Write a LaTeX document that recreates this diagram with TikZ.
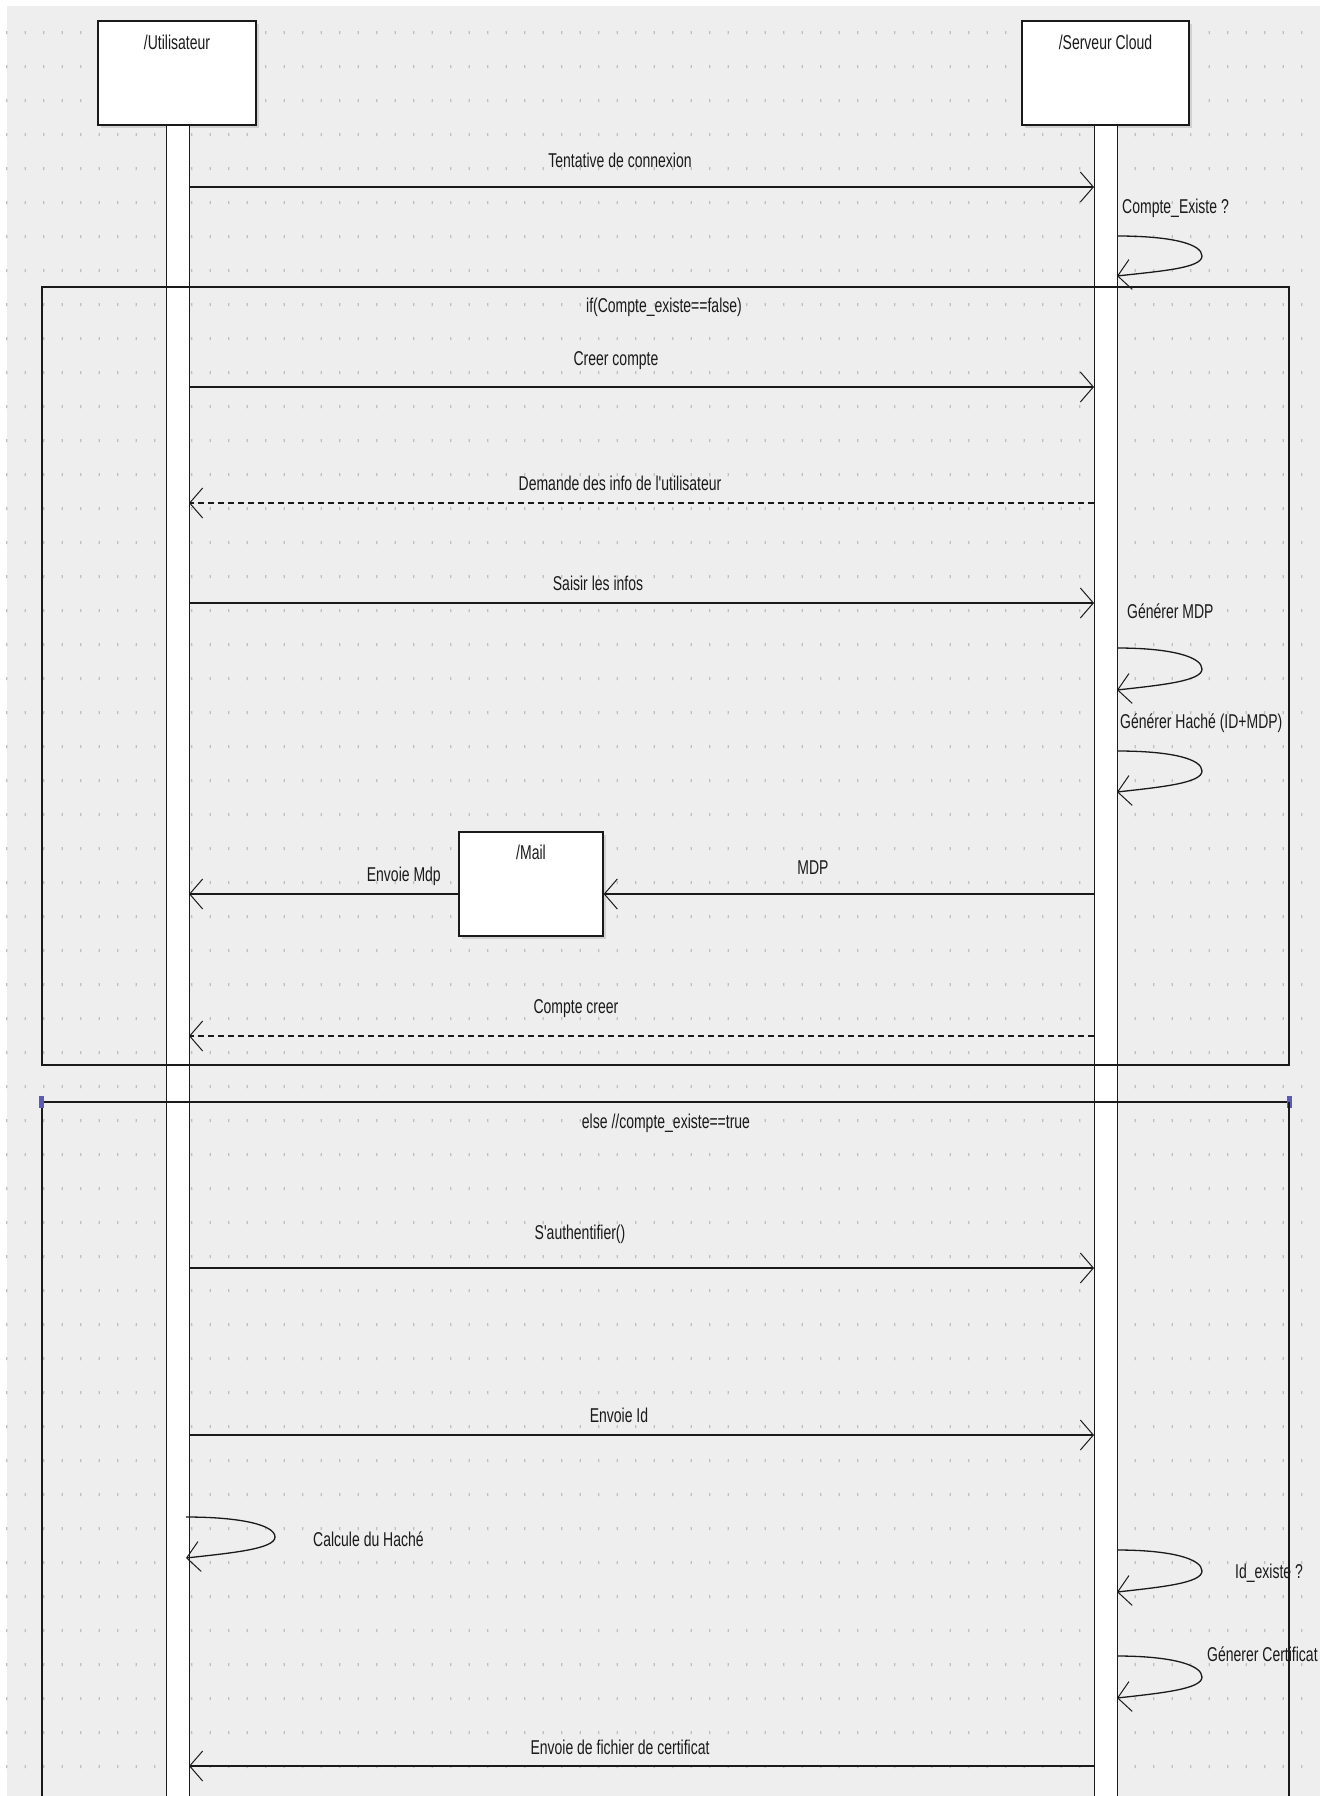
\documentclass[tikz,border=0pt]{standalone}
\usepackage{fontspec}
\newfontfamily\diafont[FakeStretch=0.7]{Liberation Sans}
\usetikzlibrary{arrows.meta}
\definecolor{bg}{HTML}{EEEEEE}
\definecolor{dotc}{HTML}{BFBFBF}
\definecolor{handle}{HTML}{5B5BB5}
\definecolor{ink}{HTML}{1A1A1A}
\begin{document}
\begin{tikzpicture}[x=1pt,y=-1pt,
  lbl/.style={font=\diafont\fontsize{20}{22}\selectfont, inner sep=0pt, text=ink},
  actorbox/.style={draw=ink, line width=1.3pt, fill=white, inner sep=0pt},
  barbox/.style={draw=ink, line width=0.9pt, fill=white, inner sep=0pt, minimum width=23pt},
  msg/.style={draw=ink, line width=1.3pt, -{Straight Barb[length=13pt,width=30pt,line width=1pt]}},
  reply/.style={msg, dash pattern=on 6pt off 4pt},
  framel/.style={draw=ink, line width=1.2pt},
  shadowc/.style={fill=black!18}
]
\useasboundingbox (0,0) rectangle (1330,1796);
% background and grid
\fill[white] (0,0) rectangle (1330,1796);
\fill[bg] (7,6) rectangle (1320,1796);
\fill[dotc] \foreach \i in {0,...,70} { \foreach \j in {0,...,52} { ({6.2+18.5*\i},{31+34*\j}) rectangle ++(1.2,3) } };

% actor boxes
\fill[shadowc] (101,24) rectangle (259,128);
\node[actorbox, minimum width=158pt, minimum height=104pt] (ubox) at (177,73) {};
\node[lbl] (ulbl) at (177,42) {/Utilisateur};
\fill[shadowc] (1025,24) rectangle (1192,128);
\node[actorbox, minimum width=167pt, minimum height=104pt] (sbox) at (1105.5,73) {};
\node[lbl] (slbl) at (1105.5,42) {/Serveur Cloud};

% lifeline bars
\node[barbox, minimum height=1680pt] (ubar) at (177.5,965) {};
\node[barbox, minimum height=1680pt] (sbar) at (1105.5,965) {};

% alt frame
\draw[framel] (42,287) rectangle (1289,1065);
\draw[draw=ink, line width=2pt] (42,287) -- (1289,287);
\draw[framel] (42,1800) -- (42,1102) -- (1289,1102) -- (1289,1800);
\draw[draw=ink, line width=2pt] (42,1102) -- (1289,1102);
\fill[handle] (39,1096) rectangle (44,1108);
\fill[handle] (1287,1096) rectangle (1292,1108);
\node[lbl] (ifl) at (664,307) {if(Compte\_existe==false)};
\node[lbl] (elsel) at (666,1123) {else //compte\_existe==true};

% coordinates
\coordinate (m1s) at (189,187);  \coordinate (m1e) at (1094,187);
\coordinate (l1s) at (1117,236); \coordinate (l1t) at (1202,256); \coordinate (l1e) at (1117,276);
\coordinate (m2s) at (189,387);  \coordinate (m2e) at (1094,387);
\coordinate (m3s) at (1094,503); \coordinate (m3e) at (189,503);
\coordinate (m4s) at (189,603);  \coordinate (m4e) at (1094,603);
\coordinate (l2s) at (1117,648); \coordinate (l2t) at (1202,669); \coordinate (l2e) at (1117,690);
\coordinate (l3s) at (1117,751); \coordinate (l3t) at (1202,771); \coordinate (l3e) at (1117,792);
\coordinate (m5s) at (1094,894);
\coordinate (m6e) at (189,894);
\coordinate (m7s) at (1094,1036); \coordinate (m7e) at (189,1036);
\coordinate (m8s) at (189,1268); \coordinate (m8e) at (1094,1268);
\coordinate (m9s) at (189,1435); \coordinate (m9e) at (1094,1435);
\coordinate (l4s) at (186,1517); \coordinate (l4t) at (275,1537); \coordinate (l4e) at (186,1558);
\coordinate (l5s) at (1117,1550); \coordinate (l5t) at (1202,1571); \coordinate (l5e) at (1117,1592);
\coordinate (l6s) at (1117,1656); \coordinate (l6t) at (1202,1677); \coordinate (l6e) at (1117,1698);
\coordinate (m10s) at (1094,1766); \coordinate (m10e) at (189,1766);

% mail box
\fill[shadowc] (462,835) rectangle (606,939);
\node[actorbox, minimum width=144pt, minimum height=104pt] (mail) at (531,884) {};
\node[lbl] (maillbl) at (531,852) {/Mail};

% messages
\draw[msg] (m1s) -- (m1e);
\node[lbl] (t1) at (620,160) {Tentative de connexion};
\draw[msg] (l1s) .. controls +(55,0) and +(0,-12) .. (l1t) .. controls +(0,12) and +(45,-5) .. (l1e);
\node[lbl, anchor=west] (t2) at (1122,208) {Compte\_Existe ?};
\draw[msg] (m2s) -- (m2e);
\node[lbl] (t3) at (616,361) {Creer compte};
\draw[reply] (m3s) -- (m3e);
\node[lbl] (t4) at (620,483) {Demande des info de l'utilisateur};
\draw[msg] (m4s) -- (m4e);
\node[lbl] (t5) at (598,583) {Saisir les infos};
\draw[msg] (l2s) .. controls +(55,0) and +(0,-12) .. (l2t) .. controls +(0,12) and +(45,-5) .. (l2e);
\node[lbl, anchor=west] (t6) at (1127,611) {Générer MDP};
\draw[msg] (l3s) .. controls +(55,0) and +(0,-12) .. (l3t) .. controls +(0,12) and +(45,-5) .. (l3e);
\node[lbl, anchor=west] (t7) at (1120,723) {Générer Haché (ID+MDP)};
\draw[msg] (m5s) -- (mail.east |- m5s);
\node[lbl] (t8) at (813,868) {MDP};
\draw[msg] (mail.west |- m6e) -- (m6e);
\node[lbl, anchor=east] (t9) at (441,876) {Envoie Mdp};
\draw[reply] (m7s) -- (m7e);
\node[lbl] (t10) at (576,1009) {Compte creer};
\draw[msg] (m8s) -- (m8e);
\node[lbl] (t11) at (580,1234) {S'authentifier()};
\draw[msg] (m9s) -- (m9e);
\node[lbl] (t12) at (619,1415) {Envoie Id};
\draw[msg] (l4s) .. controls +(55,0) and +(0,-12) .. (l4t) .. controls +(0,12) and +(45,-5) .. (l4e);
\node[lbl, anchor=west] (t13) at (313,1539) {Calcule du Haché};
\draw[msg] (l5s) .. controls +(55,0) and +(0,-12) .. (l5t) .. controls +(0,12) and +(45,-5) .. (l5e);
\node[lbl, anchor=west] (t14) at (1235,1573) {Id\_existe ?};
\draw[msg] (l6s) .. controls +(55,0) and +(0,-12) .. (l6t) .. controls +(0,12) and +(45,-5) .. (l6e);
\node[lbl, anchor=west] (t15) at (1207,1654) {Génerer Certificat};
\draw[msg] (m10s) -- (m10e);
\node[lbl] (t16) at (620,1747) {Envoie de fichier de certificat};

% frame right edge drawn over labels
\draw[framel] (1289,1102) -- (1289,1800);
\end{tikzpicture}
\end{document}
